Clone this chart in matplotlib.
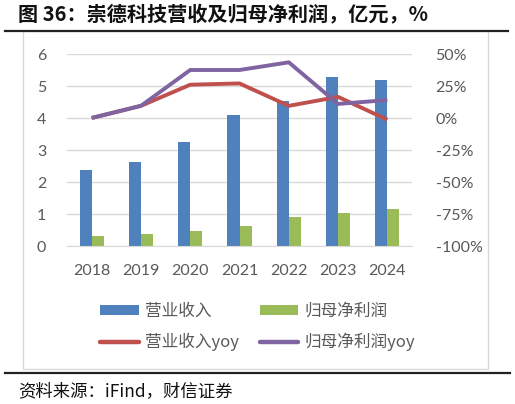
import matplotlib
matplotlib.use("Agg")
import matplotlib.pyplot as plt
from matplotlib.lines import Line2D
from matplotlib.patches import Rectangle, Patch
import numpy as np

plt.rcParams['font.family'] = ['Lato', 'Noto Sans CJK SC', 'DejaVu Sans']

years = ['2018', '2019', '2020', '2021', '2022', '2023', '2024']
revenue = [2.38, 2.61, 3.26, 4.10, 4.53, 5.27, 5.18]
net_profit = [0.32, 0.37, 0.46, 0.64, 0.92, 1.03, 1.16]
revenue_yoy = [0.0, 9.5, 26.0, 27.0, 9.5, 16.5, -1.3]
profit_yoy = [0.0, 9.5, 37.5, 37.5, 43.5, 11.0, 14.0]
left_ticks = [0, 1, 2, 3, 4, 5, 6]
right_ticks = [-100, -75, -50, -25, 0, 25, 50]

BLUE = '#4F81BD'
GREEN = '#9BBB59'
RED = '#C0504D'
PURPLE = '#8064A2'
GRAY = '#595959'
GRID = '#D9D9D9'

W, H = 515, 404
fig = plt.figure(figsize=(W / 100, H / 100), dpi=100)

def fx(px):
    return px / W

def fy(py):
    return 1 - py / H

# chart frame
fig.add_artist(Rectangle((fx(23), fy(369)), fx(488) - fx(23), fy(31) - fy(369),
                         transform=fig.transFigure, facecolor='white',
                         edgecolor=GRID, linewidth=1, zorder=0))
# rules
fig.add_artist(Line2D([fx(5), fx(508)], [fy(31), fy(31)], transform=fig.transFigure,
                      color='#222222', linewidth=1.6))
fig.add_artist(Line2D([fx(5), fx(510)], [fy(372.5), fy(372.5)], transform=fig.transFigure,
                      color='#222222', linewidth=1.6))

ax = fig.add_axes([fx(67), fy(246), fx(412) - fx(67), fy(54) - fy(246)])
ax.set_facecolor('none')
x = np.arange(len(years))
bw = 0.245
b1 = ax.bar(x - bw / 2, revenue, bw, color=BLUE, zorder=2)
b2 = ax.bar(x + bw / 2, net_profit, bw, color=GREEN, zorder=2)
ax.set_ylim(0, 6)
ax.set_xlim(-0.5, len(years) - 0.5)
ax.set_yticks(left_ticks)
ax.set_yticklabels([str(t) for t in left_ticks])
ax.set_xticks(x)
ax.set_xticklabels(years)
ax.yaxis.grid(True, color=GRID, linewidth=1, zorder=0)
ax.set_axisbelow(True)
for s in ax.spines.values():
    s.set_visible(False)
ax.spines['bottom'].set_visible(True)
ax.spines['bottom'].set_color(GRID)
ax.tick_params(axis='both', length=0, labelsize=11.5, colors=GRAY)
ax.tick_params(axis='y', pad=15)
ax.tick_params(axis='x', pad=13)

ax2 = ax.twinx()
l1, = ax2.plot(x, revenue_yoy, color=RED, linewidth=2.8, solid_capstyle='butt', zorder=3)
l2, = ax2.plot(x, profit_yoy, color=PURPLE, linewidth=2.8, solid_capstyle='butt', zorder=4)
ax2.set_ylim(-100, 50)
ax2.set_yticks(right_ticks)
ax2.set_yticklabels([f'{t}%' for t in right_ticks])
for s in ax2.spines.values():
    s.set_visible(False)
ax2.tick_params(axis='y', length=0, labelsize=11.5, colors=GRAY, pad=17)

handles = [Patch(facecolor=BLUE), Line2D([], [], color=RED, linewidth=3.2, solid_capstyle='round'),
           Patch(facecolor=GREEN), Line2D([], [], color=PURPLE, linewidth=3.2, solid_capstyle='round')]
labels = ['营业收入', '营业收入yoy', '归母净利润', '归母净利润yoy']
leg = fig.legend(handles, labels, ncol=2, loc='center left',
                 bbox_to_anchor=(fx(92), fy(327)), frameon=False,
                 prop={'family': ['Noto Sans CJK SC', 'Lato'], 'size': 12},
                 handlelength=2.3, handleheight=0.55, handletextpad=0.35,
                 columnspacing=1.3, labelspacing=0.8, borderpad=0)
for t in leg.get_texts():
    t.set_color(GRAY)

fig.text(fx(18), fy(14), '图 36：崇德科技营收及归母净利润，亿元，%',
         fontsize=14.5, fontweight='bold', family=['Noto Sans CJK SC'],
         va='center', ha='left', color='#111111')
fig.text(fx(18), fy(391), '资料来源：iFind，财信证券', fontsize=12.5, style='italic',
         family=['Noto Sans CJK SC'], va='center', ha='left', color='#111111')

fig.savefig('out.png', dpi=100)
